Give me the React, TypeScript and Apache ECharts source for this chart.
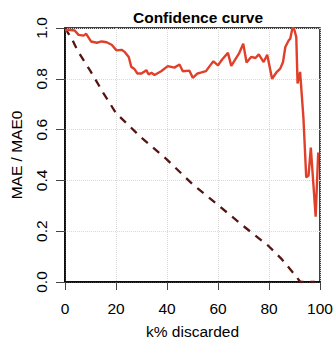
import React, { useEffect, useRef } from "react";
import * as echarts from "echarts";

const modelK = [0, 1.4, 3.8, 5.3, 7.3, 8.3, 10.2, 12.5, 14.4, 16.3, 18.3, 20.2, 22.2, 23.5, 25, 26, 27.1, 28.4, 30, 31.9, 32.8, 33.9, 35.1, 37.7, 40.3, 42.9, 44.9, 46.2, 48.8, 50.1, 52, 53.5, 55.3, 56.5, 58.2, 60, 61.7, 63.9, 65.2, 68.2, 69.9, 71.2, 73, 74.7, 76, 77.9, 79.3, 81.2, 82.9, 84.4, 85.5, 86.4, 87.7, 88.3, 89.2, 89.8, 90.7, 91.2, 92.2, 93.5, 94.6, 95.5, 96.4, 98.3, 99.3];
const modelRatio = [0.99, 0.993, 0.99, 0.973, 0.97, 0.977, 0.947, 0.942, 0.947, 0.944, 0.934, 0.912, 0.914, 0.905, 0.886, 0.847, 0.84, 0.821, 0.821, 0.834, 0.817, 0.824, 0.815, 0.83, 0.85, 0.844, 0.856, 0.83, 0.832, 0.804, 0.821, 0.825, 0.83, 0.847, 0.869, 0.853, 0.877, 0.902, 0.851, 0.899, 0.938, 0.864, 0.886, 0.882, 0.896, 0.866, 0.895, 0.8, 0.825, 0.84, 0.866, 0.925, 0.951, 0.957, 1.0, 0.998, 0.964, 0.782, 0.827, 0.646, 0.412, 0.419, 0.529, 0.257, 0.51];

const oracleK = [0, 2.7, 5, 10, 15, 20, 30, 40, 50, 60, 70, 80, 85, 90, 92.3, 98];
const oracleRatio = [1.0, 0.957, 0.91, 0.83, 0.745, 0.665, 0.568, 0.482, 0.385, 0.303, 0.22, 0.14, 0.09, 0.03, 0.0, 0.0];

const xTicks = [0, 20, 40, 60, 80, 100];
const yTicks = [0, 0.2, 0.4, 0.6, 0.8, 1.0];

const FONT = "Liberation Sans, Arial, sans-serif";

export default function App() {
  const ref = useRef<HTMLDivElement>(null);
  useEffect(() => {
    if (!ref.current) return;
    const chart = echarts.init(ref.current, null, { renderer: "svg" });
    const modelData = modelK.map((k, i) => [k, modelRatio[i]]);
    const oracleData = oracleK.map((k, i) => [k, oracleRatio[i]]);
    chart.setOption({
      animation: false,
      backgroundColor: "#ffffff",
      title: {
        text: "Confidence curve",
        left: 193,
        top: 4,
        textAlign: "center",
        textStyle: { fontFamily: FONT, fontSize: 15.5, fontWeight: "bold", color: "#000" },
      },
      grid: {
        left: 63,
        right: 16,
        top: 28,
        bottom: 58,
        show: true,
        borderColor: "#000",
        borderWidth: 1.5,
        backgroundColor: "transparent",
      },
      xAxis: {
        type: "value",
        min: xTicks[0],
        max: xTicks[xTicks.length - 1],
        interval: 20,
        name: "k% discarded",
        nameLocation: "middle",
        nameGap: 41,
        nameTextStyle: { fontFamily: FONT, fontSize: 15.5, color: "#000" },
        axisLine: { show: true, lineStyle: { color: "#000", width: 1.5 } },
        axisTick: { show: true, length: 8, inside: false, lineStyle: { color: "#444", width: 1 } },
        axisLabel: { fontFamily: FONT, fontSize: 15.5, color: "#000", margin: 18, formatter: (v: number) => String(v) },
        splitLine: { show: true, lineStyle: { color: "#d9d9d9", type: "dotted", width: 1 } },
      },
      yAxis: {
        type: "value",
        min: yTicks[0],
        max: yTicks[yTicks.length - 1],
        interval: 0.2,
        name: "MAE / MAE0",
        nameLocation: "middle",
        nameGap: 41,
        nameTextStyle: { fontFamily: FONT, fontSize: 15.5, color: "#000" },
        axisLine: { show: true, lineStyle: { color: "#000", width: 1.5 } },
        axisTick: { show: true, length: 9, inside: false, lineStyle: { color: "#444", width: 1 } },
        axisLabel: {
          fontFamily: FONT,
          fontSize: 15.5,
          color: "#000",
          rotate: 90,
          margin: 16,
          formatter: (v: number) => v.toFixed(1),
        },
        splitLine: { show: true, lineStyle: { color: "#d9d9d9", type: "dotted", width: 1 } },
      },
      series: [
        {
          type: "line",
          data: oracleData,
          symbol: "none",
          lineStyle: { color: "#561512", width: 2.3, type: [8, 7] },
          z: 2,
        },
        {
          type: "line",
          data: modelData,
          symbol: "none",
          lineStyle: { color: "#e0402a", width: 2.4 },
          z: 3,
        },
      ],
    });
    return () => chart.dispose();
  }, []);
  return <div ref={ref} style={{ width: 336, height: 344, position: "absolute", left: 0, top: 0 }} />;
}
